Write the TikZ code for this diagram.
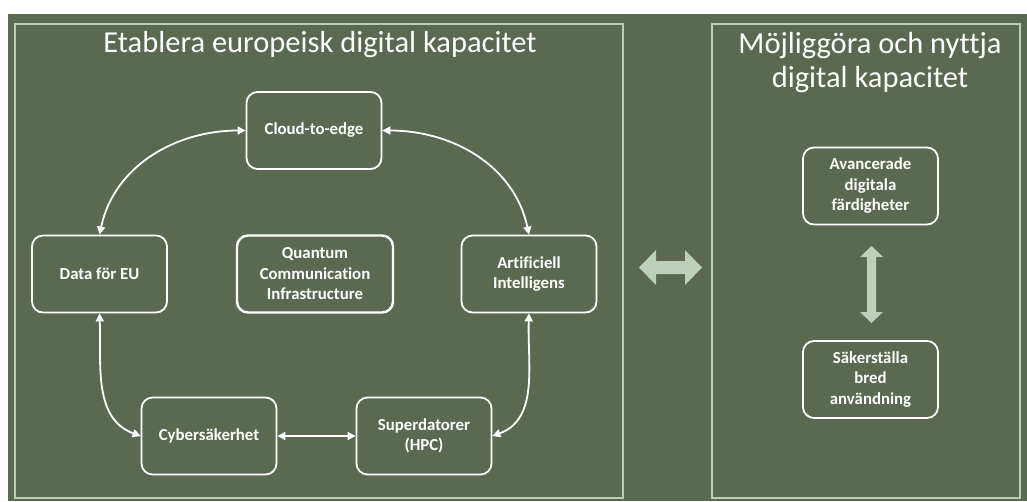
\documentclass[tikz,border=0pt]{standalone}
\usepackage{fontspec}
\setmainfont{Carlito}[Ligatures={NoCommon}]
\usetikzlibrary{arrows.meta}
\definecolor{bg}{HTML}{5B6950}
\definecolor{frame}{HTML}{BCCDB6}
\definecolor{bigarrow}{HTML}{BDD0BA}
\tikzset{
  box/.style={draw=white, line width=1.8pt, rounded corners=11pt, fill=bg,
    minimum width=135pt, minimum height=77pt, align=center, text=white,
    font=\fontsize{16.8}{20.5}\selectfont\bfseries, inner sep=2pt},
  link/.style={draw=white, line width=1.8pt, {Triangle[length=8pt,width=8pt]}-{Triangle[length=8pt,width=8pt]}},
  paneltitle/.style={text=white, align=center, font=\fontsize{30.5}{34}\selectfont},
  panel/.style={draw=frame, line width=1.6pt}
}
\begin{document}
\begin{tikzpicture}[x=1pt,y=-1pt]
\useasboundingbox (0,0) rectangle (1027,501);
\fill[white] (0,0) rectangle (1027,501);
\fill[bg] (8,14) rectangle (1027,501);
\draw[panel] (15,24) rectangle (623,498);
\draw[panel] (712,24) rectangle (1020,498);
\node[paneltitle] (t1) at (320,45) {Etablera europeisk digital kapacitet};
\node[paneltitle] (t2) at (870,63) {Möjliggöra och nyttja\\digital kapacitet};
\node[box] (cloud) at (314,130.5) {Cloud-to-edge};
\node[box] (data) at (99.5,274) {Data för EU};
\node[box, minimum width=156pt, line width=2.4pt] (quant) at (315,274) {Quantum\\Communication\\Infrastructure};
\node[box] (ai) at (529,274) {Artificiell\\Intelligens};
\node[box] (cyber) at (209,436) {Cybersäkerhet};
\node[box] (super) at (424,436) {Superdatorer\\(HPC)};
\node[box] (avan) at (870.5,186) {Avancerade\\digitala\\färdigheter};
\node[box] (saker) at (870.5,379.5) {Säkerställa\\bred\\användning};
\draw[link] (cloud.west) to[out=180,in=78] (data.north);
\draw[link] (cloud.east) to[out=0,in=102] (ai.north);
\draw[link] (data.south) to[out=-88,in=160] (cyber.west);
\draw[link] (ai.south) to[out=-92,in=20] (super.east);
\draw[link] (cyber.east) -- (super.west);
\fill[bigarrow] (639,267.5) -- (656,250) -- (656,261) -- (685,261) -- (685,250) -- (702,267.5) -- (685,285) -- (685,274) -- (656,274) -- (656,285) -- cycle;
\fill[bigarrow] (871.5,246) -- (883,257) -- (876,257) -- (876,312) -- (883,312) -- (871.5,323) -- (860,312) -- (867,312) -- (867,257) -- (860,257) -- cycle;
\end{tikzpicture}
\end{document}
